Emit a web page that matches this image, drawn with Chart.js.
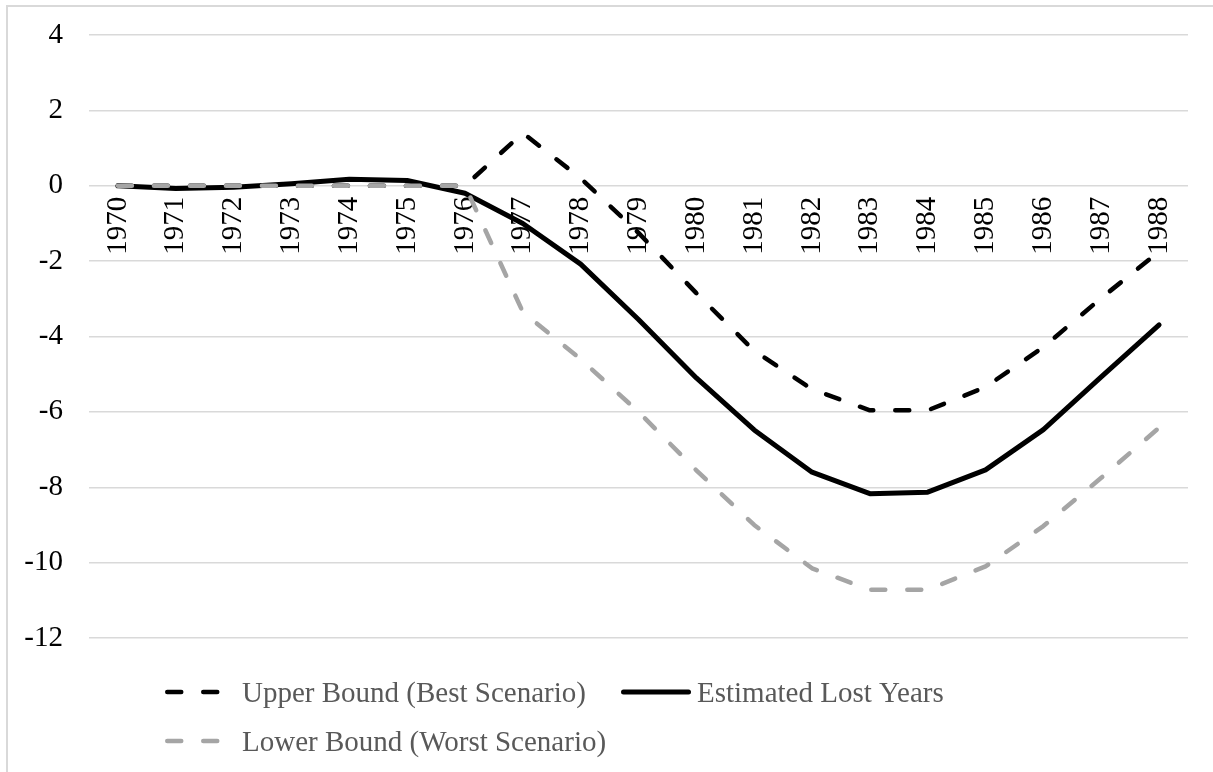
<!DOCTYPE html>
<html>
<head>
<meta charset="utf-8">
<script src="https://cdn.jsdelivr.net/npm/chart.js@4.4.1/dist/chart.umd.min.js"></script>
<style>
  html, body { margin: 0; padding: 0; background: #fff; overflow: hidden; }
  .wrap { position: relative; width: 1213px; height: 772px; }
  .frame { position: absolute; left: 6px; top: 5px; width: 1400px; height: 1000px;
           border-left: 2px solid #d9d9d9; border-top: 2px solid #d9d9d9; pointer-events: none; }
  canvas { position: absolute; left: 0; top: 0; }
</style>
</head>
<body>
<div class="wrap">
  <div class="frame"></div>
  <canvas id="chart" width="1213" height="772"></canvas>
</div>
<script>
// categories
const years = ["1970", "1971", "1972", "1973", "1974", "1975", "1976", "1977", "1978", "1979",
               "1980", "1981", "1982", "1983", "1984", "1985", "1986", "1987", "1988"];

// series
const upperBound = [0, 0, 0, 0, 0, 0, 0, 1.4, 0.2, -1.25, -2.85, -4.38, -5.4, -5.96, -5.96, -5.34, -4.28, -2.98, -1.75];
const estimated = [0, -0.07, -0.04, 0.05, 0.17, 0.14, -0.2, -1.0, -2.08, -3.55, -5.1, -6.48, -7.6, -8.17, -8.13, -7.54, -6.47, -5.07, -3.69];
const lowerBound = [0, 0, 0, 0, 0, 0, 0, -3.35, -4.6, -6.0, -7.55, -9.0, -10.15, -10.72, -10.72, -10.1, -9.03, -7.75, -6.42];

// axis range
const yMin = -12;
const yMax = 4;
const yStep = 2;

const seriesNames = ["Upper Bound (Best Scenario)", "Estimated Lost Years", "Lower Bound (Worst Scenario)"];

const serif = "'Liberation Serif', 'Times New Roman', serif";
Chart.defaults.font.family = serif;

const GRAY = "#a5a5a5";

// legend drawn by hand so it can wrap into two rows like the original
const bottomLegend = {
    id: "bottomLegend",
    afterDraw(chart) {
        const ctx = chart.ctx;
        const items = [
            { x: 165, y: 692, len: 58, color: "#000", dash: [14, 22], width: 4.5, gap: 19 },
            { x: 621, y: 692, len: 70, color: "#000", dash: [], width: 5, gap: 6 },
            { x: 165, y: 741, len: 58, color: GRAY, dash: [14, 22], width: 4.5, gap: 19 },
        ];
        ctx.save();
        items.forEach((it, i) => {
            ctx.beginPath();
            ctx.setLineDash(it.dash);
            ctx.lineCap = "round";
            ctx.lineWidth = it.width;
            ctx.strokeStyle = it.color;
            ctx.moveTo(it.x + it.width / 2, it.y);
            ctx.lineTo(it.x + it.len - it.width / 2, it.y);
            ctx.stroke();
            ctx.setLineDash([]);
            ctx.fillStyle = "#595959";
            ctx.font = "29px " + serif;
            ctx.textBaseline = "alphabetic";
            ctx.textAlign = "left";
            ctx.fillText(seriesNames[i], it.x + it.len + it.gap, it.y + 10);
        });
        ctx.restore();
    }
};

const ctx = document.getElementById("chart").getContext("2d");

new Chart(ctx, {
    type: "line",
    data: {
        labels: years,
        datasets: [
            {
                label: seriesNames[0],
                data: upperBound,
                borderColor: "#000",
                borderWidth: 4.5,
                borderDash: [14, 22],
                borderCapStyle: "round",
                borderJoinStyle: "round",
                pointRadius: 0,
                tension: 0,
                order: 2,
            },
            {
                label: seriesNames[1],
                data: estimated,
                borderColor: "#000",
                borderWidth: 5,
                borderCapStyle: "round",
                borderJoinStyle: "round",
                pointRadius: 0,
                tension: 0,
                order: 1,
            },
            {
                label: seriesNames[2],
                data: lowerBound,
                borderColor: GRAY,
                borderWidth: 4.5,
                borderDash: [14, 22],
                borderCapStyle: "round",
                borderJoinStyle: "round",
                pointRadius: 0,
                tension: 0,
                order: 0,
            },
        ],
    },
    options: {
        responsive: false,
        animation: false,
        layout: {
            padding: { left: 0, right: 25, top: 35, bottom: 134 },
        },
        plugins: {
            legend: { display: false },
            tooltip: { enabled: false },
        },
        scales: {
            x: {
                position: { y: 0 },
                offset: true,
                grid: { display: false },
                border: { display: false },
                ticks: {
                    minRotation: 90,
                    maxRotation: 90,
                    padding: 3,
                    color: "#000",
                    font: { size: 29 },
                },
            },
            y: {
                min: yMin,
                max: yMax,
                grid: { color: "#d9d9d9", lineWidth: 1.5, drawTicks: false },
                border: { display: false },
                ticks: {
                    stepSize: yStep,
                    padding: 26,
                    color: "#000",
                    font: { size: 29 },
                },
                afterFit(scale) {
                    scale.width = 89;
                    // the tick padding should not push the plot area down
                    scale.paddingTop = 0;
                    scale.paddingBottom = 0;
                },
            },
        },
    },
    plugins: [bottomLegend],
});
</script>
</body>
</html>
